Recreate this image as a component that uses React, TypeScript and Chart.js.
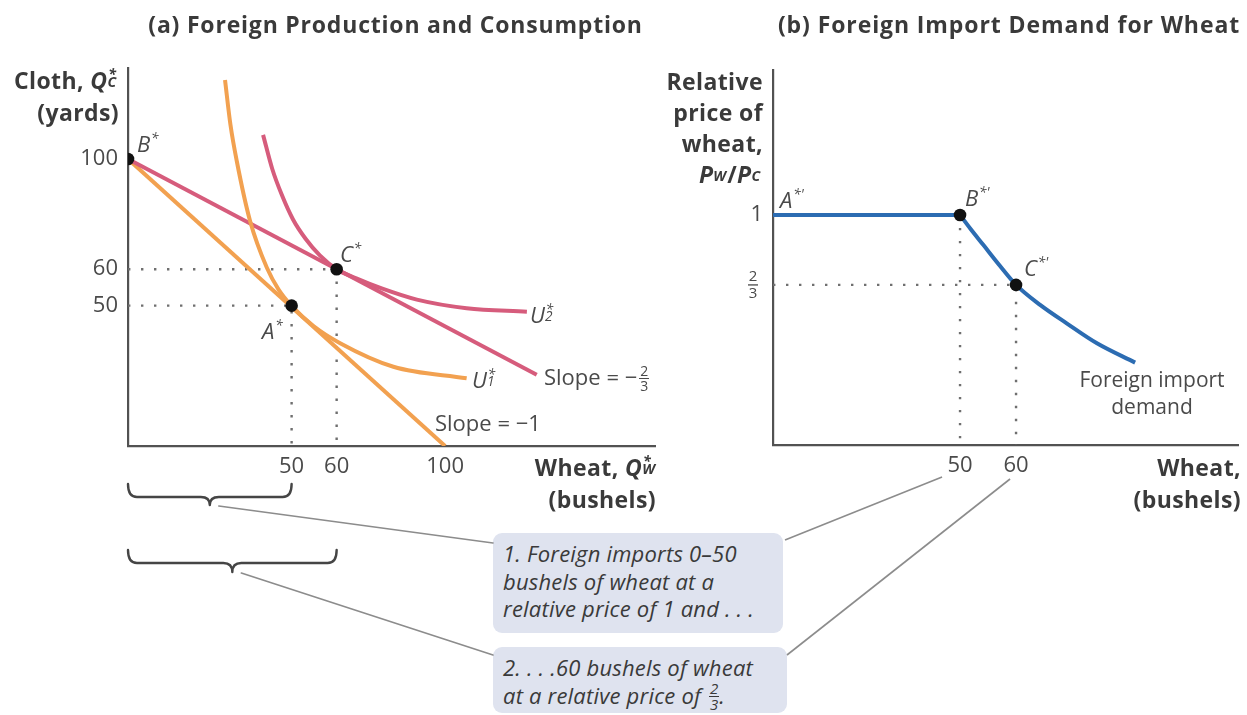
import React, { useEffect, useRef } from 'react';
import { Chart, registerables } from 'chart.js';

Chart.register(...registerables);

const FONT = "'Open Sans', 'Noto Sans', 'DejaVu Sans', sans-serif";
const ORANGE = '#f2a150';
const RED = '#d65c7c';
const BLUE = '#2c6cb2';
const AXIS = '#525252';
const DOT = '#6f6f6f';
const INK = '#3a3a3a';
const TICK = '#4a4a4a';
const LEADER = '#8c8c8c';

// ---------- Panel (a): Foreign production and consumption (diagram units, figure not to scale)
const xMaxA = 166.2;
const yMaxA = 131.7;
const pointB = { x: 0, y: 100 };
const pointA = { x: 51.6, y: 48.9 };
const pointC = { x: 65.8, y: 61.6 };
const budgetSlopeOne = [{ x: 0, y: 100 }, { x: 100, y: 0 }];
const budgetSlopeTwoThirds = [{ x: 0, y: 100 }, { x: 128.9, y: 24.8 }];
const curveU1 = [
  { x: 30.6, y: 127.5 }, { x: 32.3, y: 112 }, { x: 34.3, y: 99.3 }, { x: 38.5, y: 78.4 },
  { x: 43.8, y: 62.1 }, { x: 47.5, y: 54.5 }, { x: 51.6, y: 48.8 }, { x: 58.5, y: 41.8 },
  { x: 66.9, y: 35.8 }, { x: 83.7, y: 27.6 }, { x: 106.8, y: 23.6 },
];
const curveU2 = [
  { x: 42.6, y: 108.4 }, { x: 45.5, y: 96.5 }, { x: 48.5, y: 87.5 }, { x: 52, y: 79 },
  { x: 56, y: 72.2 }, { x: 60.5, y: 66.4 }, { x: 65.8, y: 61.6 }, { x: 72, y: 58.4 },
  { x: 80, y: 54.9 }, { x: 91.1, y: 51.0 }, { x: 106.8, y: 48.0 }, { x: 125.8, y: 46.8 },
];
const xTickValuesA = [pointA.x, pointC.x, 100];
const xTickLabelsA = ['50', '60', '100'];
const yTickValuesA = [pointA.y, pointC.y, 100];
const yTickLabelsA = ['50', '60', '100'];

// ---------- Panel (b): Foreign import demand for wheat
const xMaxB = 124.3;
const yMaxB = 1.63;
const demandFlat = [{ x: 0, y: 1 }, { x: 50, y: 1 }];
const demandCurve = [
  { x: 50, y: 1 }, { x: 52.67, y: 0.942 }, { x: 56.2, y: 0.87 }, { x: 60.7, y: 0.778 },
  { x: 64.97, y: 0.696 }, { x: 71.4, y: 0.609 }, { x: 78.5, y: 0.529 }, { x: 86.6, y: 0.442 },
  { x: 96.8, y: 0.358 },
];
const pointBb = { x: 50, y: 1 };
const pointCb = { x: 64.97, y: 0.696 };
const xTickValuesB = [50, 64.97];
const xTickLabelsB = ['50', '60'];
const yTickValuesB = [1, 0.696];
const yTickLabelsB = ['1', '2/3'];

// ---------- layout
const W = 1247;
const H = 715;
const AREA_A = { left: 128, top: 68, right: 655, bottom: 446 };
const AREA_B = { left: 773, top: 70, right: 1238, bottom: 445 };
const BOX1 = { left: 493, top: 533, width: 290, height: 100 };
const BOX2 = { left: 493, top: 647, width: 294, height: 66 };
const Y_AXIS_W = 100;
const X_AXIS_H = 60;

function seg(ctx: CanvasRenderingContext2D, x0: number, y0: number, x1: number, y1: number) {
  ctx.beginPath();
  ctx.moveTo(x0, y0);
  ctx.lineTo(x1, y1);
  ctx.stroke();
}

function drawBrace(ctx: CanvasRenderingContext2D, x0: number, x1: number, yTop: number, yMid: number, yTip: number) {
  const r = 9;
  const xm = (x0 + x1) / 2;
  ctx.beginPath();
  ctx.moveTo(x0, yTop);
  ctx.quadraticCurveTo(x0, yMid, x0 + r, yMid);
  ctx.lineTo(xm - r, yMid);
  ctx.quadraticCurveTo(xm, yMid, xm, yTip);
  ctx.quadraticCurveTo(xm, yMid, xm + r, yMid);
  ctx.lineTo(x1 - r, yMid);
  ctx.quadraticCurveTo(x1, yMid, x1, yTop);
  ctx.stroke();
  return { x: xm, y: yTip };
}

const braceAnnot = {
  id: 'braceAnnot',
  afterDraw(chart: any) {
    const { ctx } = chart;
    const x = chart.scales.x;
    ctx.save();
    ctx.strokeStyle = '#454545';
    ctx.lineWidth = 2.4;
    ctx.lineCap = 'round';
    ctx.lineJoin = 'round';
    const t1 = drawBrace(ctx, x.getPixelForValue(0), x.getPixelForValue(pointA.x), 484, 497, 505);
    const t2 = drawBrace(ctx, x.getPixelForValue(0), x.getPixelForValue(pointC.x), 550, 563, 572);
    ctx.strokeStyle = LEADER;
    ctx.lineWidth = 1.6;
    seg(ctx, t1.x + 9, t1.y + 1, BOX1.left, BOX1.top + 10);
    seg(ctx, t2.x + 9, t2.y + 1, BOX2.left, BOX2.top + 8);
    ctx.restore();
  },
};

const fracAnnot = {
  id: 'fracAnnot',
  afterDraw(chart: any) {
    const { ctx, chartArea } = chart;
    const x = chart.scales.x;
    const y = chart.scales.y;
    const [n, d] = yTickLabelsB[1].split('/');
    const cx = chartArea.left - 20;
    const cy = y.getPixelForValue(yTickValuesB[1]);
    ctx.save();
    ctx.fillStyle = TICK;
    ctx.font = `15px ${FONT}`;
    ctx.textAlign = 'center';
    ctx.textBaseline = 'middle';
    ctx.fillText(n, cx, cy - 8);
    ctx.fillText(d, cx, cy + 9);
    ctx.fillRect(cx - 5, cy - 0.6, 10, 1.3);
    ctx.strokeStyle = LEADER;
    ctx.lineWidth = 1.6;
    seg(ctx, BOX1.left + BOX1.width + 2, BOX1.top + 7, x.getPixelForValue(xTickValuesB[0]) - 18, chartArea.bottom + 32);
    seg(ctx, BOX2.left + BOX2.width, BOX2.top + 8, x.getPixelForValue(xTickValuesB[1]) - 6, chartArea.bottom + 34);
    ctx.restore();
  },
};

function makeOptions(area: any, xMax: number, yMax: number, xt: number[], xl: string[], yt: number[], yl: string[], hideY?: (i: number) => boolean) {
  const tickFont = { family: FONT, size: 22 };
  return {
    animation: false as const,
    responsive: false,
    maintainAspectRatio: false,
    events: [] as any[],
    layout: {
      padding: {
        left: area.left - Y_AXIS_W,
        top: area.top,
        right: W - area.right,
        bottom: H - area.bottom - X_AXIS_H,
      },
    },
    plugins: { legend: { display: false }, tooltip: { enabled: false }, title: { display: false } },
    scales: {
      x: {
        type: 'linear' as const,
        min: 0,
        max: xMax,
        grid: { display: false, drawTicks: false },
        border: { display: true, color: AXIS, width: 2.2 },
        afterFit: (s: any) => { s.height = X_AXIS_H; },
        afterBuildTicks: (s: any) => { s.ticks = xt.map((v) => ({ value: v })); },
        ticks: {
          autoSkip: false, maxRotation: 0, minRotation: 0, padding: 8, color: TICK, font: tickFont,
          callback: (_v: any, i: number) => xl[i],
        },
      },
      y: {
        type: 'linear' as const,
        min: 0,
        max: yMax,
        grid: { display: false, drawTicks: false },
        border: { display: true, color: AXIS, width: 2.2 },
        afterFit: (s: any) => { s.width = Y_AXIS_W; },
        afterBuildTicks: (s: any) => { s.ticks = yt.map((v) => ({ value: v })); },
        ticks: {
          autoSkip: false, padding: 10, color: TICK, font: tickFont,
          callback: (_v: any, i: number) => (hideY && hideY(i) ? '' : yl[i]),
        },
      },
    },
  };
}

const lineDs = (data: any[], color: string, width = 4, curve = false) => ({
  data,
  showLine: true,
  borderColor: color,
  borderWidth: width,
  pointRadius: 0,
  fill: false,
  borderCapStyle: 'butt',
  cubicInterpolationMode: curve ? 'monotone' : 'default',
});

const dotDs = (data: any[]) => ({
  data,
  showLine: true,
  borderColor: DOT,
  borderWidth: 2.4,
  borderDash: [2.4, 10.6],
  pointRadius: 0,
  fill: false,
});

const markerDs = (data: any[]) => ({
  data,
  showLine: false,
  pointRadius: 6.3,
  pointBackgroundColor: '#111',
  pointBorderWidth: 0,
});

function Sym({ b, sup, sub, w = 0.55 }: { b: string; sup?: string; sub?: string; w?: number }) {
  return (
    <span style={{ fontStyle: 'italic', whiteSpace: 'nowrap' }}>
      {b}
      <span style={{ position: 'relative', display: 'inline-block', width: `${w}em`, height: '1em' }}>
        {sup && <span style={{ position: 'absolute', left: '0.06em', top: '0.06em', fontSize: '0.62em', lineHeight: 1 }}>{sup}</span>}
        {sub && <span style={{ position: 'absolute', left: 0, top: '0.62em', fontSize: '0.62em', lineHeight: 1 }}>{sub}</span>}
      </span>
    </span>
  );
}

function Frac({ n, d, size = 13 }: { n: string; d: string; size?: number }) {
  return (
    <span style={{ display: 'inline-flex', flexDirection: 'column', alignItems: 'center', verticalAlign: 'middle', fontSize: size, lineHeight: 1, marginLeft: 2, position: 'relative', top: -1, letterSpacing: 0 }}>
      <span style={{ padding: '0 1px' }}>{n}</span>
      <span style={{ borderTop: '1.3px solid currentColor', padding: '0 1px' }}>{d}</span>
    </span>
  );
}

const abs = (left: number, top: number, extra: any = {}) => ({ position: 'absolute' as const, left, top, whiteSpace: 'nowrap' as const, ...extra });
const ptLabel = { fontSize: 22, lineHeight: '22px', color: TICK };
const boldTitle = { fontSize: 23, fontWeight: 700, letterSpacing: 0.4, whiteSpace: 'nowrap' as const };

export default function App() {
  const refA = useRef<HTMLCanvasElement>(null);
  const refB = useRef<HTMLCanvasElement>(null);

  useEffect(() => {
    const chartA = new Chart(refA.current as HTMLCanvasElement, {
      type: 'scatter',
      data: {
        datasets: [
          markerDs([pointB, pointA, pointC]),
          lineDs(curveU2, RED, 4, true),
          lineDs(curveU1, ORANGE, 4, true),
          lineDs(budgetSlopeTwoThirds, RED, 4),
          lineDs(budgetSlopeOne, ORANGE, 4),
          dotDs([{ x: 0, y: pointA.y }, { x: pointA.x, y: pointA.y }, { x: pointA.x, y: 0 }]),
          dotDs([{ x: 0, y: pointC.y }, { x: pointC.x, y: pointC.y }, { x: pointC.x, y: 0 }]),
        ] as any,
      },
      options: makeOptions(AREA_A, xMaxA, yMaxA, xTickValuesA, xTickLabelsA, yTickValuesA, yTickLabelsA) as any,
      plugins: [braceAnnot],
    });
    const chartB = new Chart(refB.current as HTMLCanvasElement, {
      type: 'scatter',
      data: {
        datasets: [
          markerDs([pointBb, pointCb]),
          lineDs(demandFlat, BLUE, 4),
          lineDs(demandCurve, BLUE, 4, true),
          dotDs([{ x: pointBb.x, y: pointBb.y }, { x: pointBb.x, y: 0 }]),
          dotDs([{ x: 0, y: pointCb.y }, { x: pointCb.x, y: pointCb.y }, { x: pointCb.x, y: 0 }]),
        ] as any,
      },
      options: makeOptions(AREA_B, xMaxB, yMaxB, xTickValuesB, xTickLabelsB, yTickValuesB, yTickLabelsB, (i) => i === 1) as any,
      plugins: [fracAnnot],
    });
    return () => {
      chartA.destroy();
      chartB.destroy();
    };
  }, []);

  const boxStyle = (b: any, padTop: number) => ({
    position: 'absolute' as const, left: b.left, top: b.top, width: b.width, height: b.height,
    background: '#dfe3ef', borderRadius: 9, boxSizing: 'border-box' as const,
    padding: `${padTop}px 0 0 10px`, fontStyle: 'italic', fontSize: 22, letterSpacing: 0.2, lineHeight: '27.5px', color: INK, whiteSpace: 'nowrap' as const,
  });

  return (
    <div style={{ position: 'fixed', left: 0, top: 0, width: W, height: H, background: '#fff', overflow: 'hidden', fontFamily: FONT, color: INK }}>
      <div style={boxStyle(BOX1, 7)}>
        <div>1. Foreign imports 0–50</div>
        <div>bushels of wheat at a</div>
        <div>relative price of 1 and . . .</div>
      </div>
      <div style={boxStyle(BOX2, 7)}>
        <div>2. . . .60 bushels of wheat</div>
        <div>at a relative price of <Frac n="2" d="3" size={15} />.</div>
      </div>

      <canvas ref={refA} width={W} height={H} style={{ position: 'absolute', left: 0, top: 0 }} />
      <canvas ref={refB} width={W} height={H} style={{ position: 'absolute', left: 0, top: 0 }} />

      {/* titles */}
      <div style={abs(140, 9, { width: 511, textAlign: 'center', fontSize: 23, fontWeight: 700, letterSpacing: 0.8, lineHeight: '30px' })}>
        (a) Foreign Production and Consumption
      </div>
      <div style={abs(770, 9, { width: 478, textAlign: 'center', fontSize: 23, fontWeight: 700, letterSpacing: 0.9, lineHeight: '30px' })}>
        (b) Foreign Import Demand for Wheat
      </div>

      {/* panel (a) axis titles */}
      <div style={{ position: 'absolute', right: W - 119, top: 64, textAlign: 'right', lineHeight: '32px', ...boldTitle }}>
        <div>Cloth, <Sym b="Q" sup="*" sub="C" w={0.5} /></div>
        <div>(yards)</div>
      </div>
      <div style={{ position: 'absolute', right: W - 656, top: 451, textAlign: 'right', lineHeight: '32px', ...boldTitle }}>
        <div>Wheat, <Sym b="Q" sup="*" sub="W" w={0.6} /></div>
        <div>(bushels)</div>
      </div>

      {/* panel (a) point and curve labels */}
      <div style={abs(137, 130, ptLabel)}><Sym b="B" sup="*" /></div>
      <div style={abs(340, 240, ptLabel)}><Sym b="C" sup="*" /></div>
      <div style={abs(262, 317, ptLabel)}><Sym b="A" sup="*" /></div>
      <div style={abs(530, 301, ptLabel)}><Sym b="U" sup="*" sub="2" /></div>
      <div style={abs(472, 366, ptLabel)}><Sym b="U" sup="*" sub="1" /></div>
      <div style={abs(544, 365, ptLabel)}>Slope = −<Frac n="2" d="3" size={14} /></div>
      <div style={abs(435, 411, ptLabel)}>Slope = −1</div>

      {/* panel (b) axis titles */}
      <div style={{ position: 'absolute', right: W - 763, top: 66, textAlign: 'right', lineHeight: '31px', ...boldTitle }}>
        <div>Relative</div>
        <div>price of</div>
        <div>wheat,</div>
        <div><Sym b="P" sub="W" w={0.6} />/<Sym b="P" sub="C" w={0.5} /></div>
      </div>
      <div style={{ position: 'absolute', right: W - 1241, top: 451, textAlign: 'right', lineHeight: '32px', ...boldTitle }}>
        <div>Wheat,</div>
        <div>(bushels)</div>
      </div>

      {/* panel (b) labels */}
      <div style={abs(780, 186, ptLabel)}><Sym b="A" sup="*'" w={0.7} /></div>
      <div style={abs(965, 184, ptLabel)}><Sym b="B" sup="*'" w={0.7} /></div>
      <div style={abs(1024, 254, ptLabel)}><Sym b="C" sup="*'" w={0.7} /></div>
      <div style={abs(1066, 366, { width: 172, textAlign: 'center', fontSize: 21, lineHeight: '27px', color: TICK })}>
        <div>Foreign import</div>
        <div>demand</div>
      </div>
    </div>
  );
}
